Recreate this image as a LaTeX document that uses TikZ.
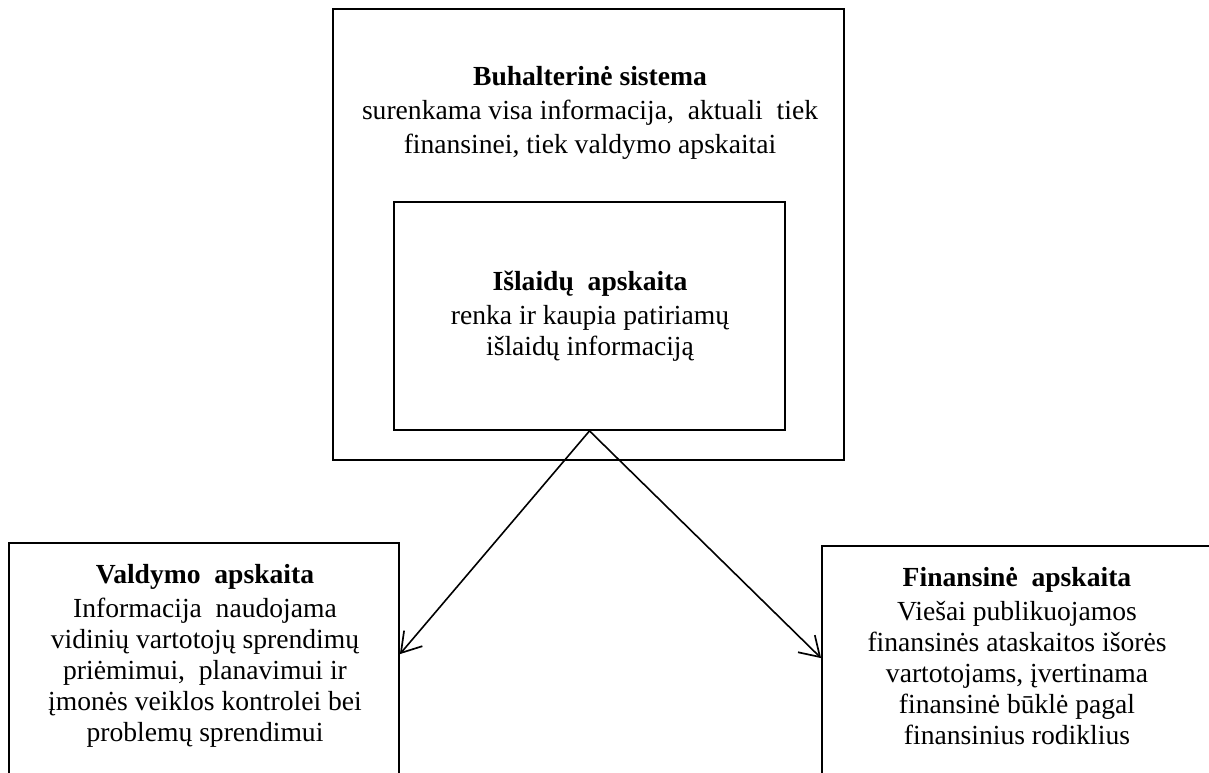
\documentclass[tikz,border=0pt]{standalone}
\usepackage{fontspec}
\setmainfont{Liberation Serif}
\usetikzlibrary{arrows.meta}
\begin{document}
\begin{tikzpicture}[x=1pt,y=-1pt,
  box/.style={draw=black, line width=1.8pt, rectangle, inner sep=0pt},
  txt/.style={align=center, inner sep=0pt, anchor=north,
    font=\fontsize{27.6}{31}\selectfont},
  link/.style={draw=black, line width=1.6pt,
    -{Straight Barb[length=19pt,width=24pt,line width=1.7pt]}}]
  \useasboundingbox (0,0) rectangle (1209,772);

  % boxes
  \node[box, minimum width=511pt, minimum height=451pt] (sys) at (588.5,234.5) {};
  \node[box, minimum width=391pt, minimum height=228pt] (cost) at (589.5,316) {};
  \node[box, minimum width=390pt, minimum height=300pt] (mgmt) at (204,693) {};
  \node[box, minimum width=420pt, minimum height=300pt] (fin) at (1032,696) {};

  % texts
  \node[txt, font=\fontsize{27.6}{34}\selectfont] (systxt) at (590,66)
    {\textbf{Buhalterinė sistema}\\
     surenkama visa informacija,\ \ aktuali\ \ tiek\\
     finansinei, tiek valdymo apskaitai};
  \node[txt] (costtxt) at (590,271)
    {\textbf{Išlaidų\ \ apskaita}\\[3pt]
     renka ir kaupia patiriamų\\
     išlaidų informaciją};
  \node[txt] (mgmttxt) at (205,564)
    {\textbf{Valdymo\ \ apskaita}\\[3pt]
     Informacija\ \ naudojama\\
     vidinių vartotojų sprendimų\\
     priėmimui,\ \ planavimui ir\\
     įmonės veiklos kontrolei bei\\
     problemų sprendimui};
  \node[txt] (fintxt) at (1017,567)
    {\textbf{Finansinė\ \ apskaita}\\[3pt]
     Viešai publikuojamos\\
     finansinės ataskaitos išorės\\
     vartotojams, įvertinama\\
     finansinė būklė pagal\\
     finansinius rodiklius};

  % connectors
  \coordinate (mgmtin) at ([yshift=-112pt]mgmt.north east);
  \coordinate (finin) at ([yshift=-113pt]fin.north west);
  \draw[link] (cost.south) -- (mgmtin);
  \draw[link] (cost.south) -- (finin);
\end{tikzpicture}
\end{document}
